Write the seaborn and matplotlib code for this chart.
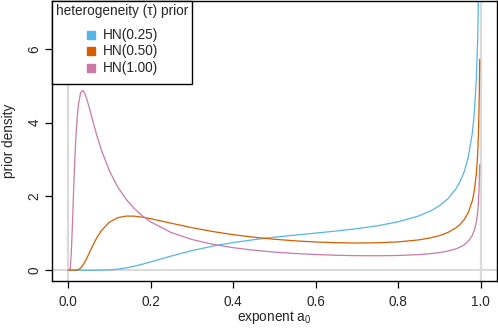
import matplotlib
matplotlib.use("Agg")
import matplotlib.pyplot as plt
from matplotlib.patches import Rectangle
import numpy as np
import pandas as pd
import seaborn as sns

# exponent a0 grid
a0 = [0.0, 0.005, 0.0075, 0.01, 0.0125, 0.015, 0.0175, 0.02, 0.0225, 0.025,
      0.03, 0.035, 0.04, 0.045, 0.05, 0.06, 0.07, 0.08, 0.1, 0.12,
      0.14, 0.16, 0.18, 0.2, 0.25, 0.3, 0.35, 0.4, 0.45, 0.5,
      0.55, 0.6, 0.65, 0.7, 0.75, 0.8, 0.85, 0.88, 0.9, 0.92,
      0.94, 0.95, 0.96, 0.97, 0.98, 0.985, 0.99, 0.993, 0.995, 0.997, 0.998]

# prior densities
hn025 = [0.0, 0.0, 0.0, 0.0, 0.0, 0.0, 0.0, 0.0, 0.0, 0.0,
         0.0, 0.0, 0.0, 0.0, 0.0, 0.0, 0.0004, 0.0015, 0.009, 0.028,
         0.061, 0.107, 0.163, 0.225, 0.384, 0.530, 0.651, 0.749, 0.827, 0.893,
         0.950, 1.005, 1.061, 1.125, 1.204, 1.310, 1.469, 1.613, 1.745, 1.926,
         2.196, 2.390, 2.654, 3.045, 3.705, 4.264, 5.205, 6.209, 7.337, 9.46, 11.5]
hn050 = [0.0, 0.0, 0.0, 0.0, 0.0, 0.0, 0.0, 0.003, 0.008, 0.018,
         0.057, 0.123, 0.214, 0.322, 0.439, 0.676, 0.889, 1.065, 1.302, 1.422,
         1.466, 1.464, 1.437, 1.396, 1.272, 1.152, 1.049, 0.963, 0.894, 0.839,
         0.796, 0.765, 0.745, 0.737, 0.743, 0.767, 0.821, 0.879, 0.936, 1.017,
         1.143, 1.235, 1.363, 1.553, 1.877, 2.153, 2.620, 3.119, 3.681, 4.74, 5.71]
hn100 = [0.0, 0.05, 0.45, 1.15, 1.95, 2.70, 3.35, 3.85, 4.22, 4.50,
         4.80, 4.87, 4.80, 4.64, 4.45, 4.03, 3.63, 3.27, 2.69, 2.256,
         1.928, 1.674, 1.472, 1.310, 1.020, 0.832, 0.703, 0.610, 0.542, 0.491,
         0.453, 0.425, 0.405, 0.394, 0.391, 0.399, 0.422, 0.449, 0.476, 0.516,
         0.577, 0.623, 0.686, 0.780, 0.942, 1.079, 1.312, 1.561, 1.842, 2.371, 2.86]

labels = ["HN(0.25)", "HN(0.50)", "HN(1.00)"]
colors = ["#56B4E9", "#D55E00", "#CC79A7"]

df = pd.concat([
    pd.DataFrame({"a0": a0, "density": vals, "prior": lab})
    for vals, lab in zip([hn025, hn050, hn100], labels)
])

sns.set_style("white")
plt.rcParams["font.family"] = ["Liberation Sans", "DejaVu Sans"]
plt.rcParams["font.size"] = 9.8

fig = plt.figure(figsize=(4.98, 3.32), dpi=100)
ax = fig.add_axes([0.1038, 0.155, 0.8942, 0.8405])

# reference lines
ax.axvline(0, color="#d9d9d9", lw=1.6, zorder=1)
ax.axvline(1, color="#d9d9d9", lw=1.6, zorder=1)
ax.axhline(0, color="#d9d9d9", lw=1.4, zorder=1)

sns.lineplot(data=df, x="a0", y="density", hue="prior", palette=colors,
             estimator=None, sort=False, lw=0.9, legend=False, ax=ax, zorder=2)

ax.set_xlim(-0.04, 1.04)
ax.set_ylim(-0.28, 7.28)
ax.set_xticks([0, 0.2, 0.4, 0.6, 0.8, 1.0])
ax.set_xticklabels(["0.0", "0.2", "0.4", "0.6", "0.8", "1.0"])
ax.set_yticks([0, 2, 4, 6])
ax.tick_params(axis="both", direction="out", length=4.8, width=0.9, color="black",
               labelsize=9.8)
ax.tick_params(axis="x", bottom=True, pad=5.3)
ax.tick_params(axis="y", left=True, pad=2.7)
for t in ax.get_yticklabels():
    t.set_rotation(90)
    t.set_va("center")
for s in ax.spines.values():
    s.set_visible(True)
    s.set_color("black")
    s.set_linewidth(1.0)

ax.set_xlabel(r"exponent $\mathregular{a_0}$", fontsize=9.8, labelpad=0.5)
ax.set_ylabel("prior density", fontsize=9.8, labelpad=8)

# legend box, drawn by hand to match the R layout
box_w, box_h = 0.315, 0.2957
ax.add_patch(Rectangle((0, 1 - box_h), box_w, box_h, transform=ax.transAxes,
                       facecolor="white", edgecolor="black", lw=1.0, zorder=5,
                       clip_on=False))
ax.text(box_w / 2, 0.966, "heterogeneity (\u03c4) prior", transform=ax.transAxes,
        ha="center", va="center", fontsize=9.8, zorder=6)
for yy, c, lab in zip([0.881, 0.8215, 0.7616], colors, labels):
    ax.plot([0.0878], [yy], marker="s", ls="none", color=c, markersize=5.2,
            transform=ax.transAxes, zorder=6, clip_on=False)
    ax.text(0.1159, yy, lab, transform=ax.transAxes, ha="left", va="center",
            fontsize=9.8, zorder=6)

fig.savefig("out.png", dpi=100)
